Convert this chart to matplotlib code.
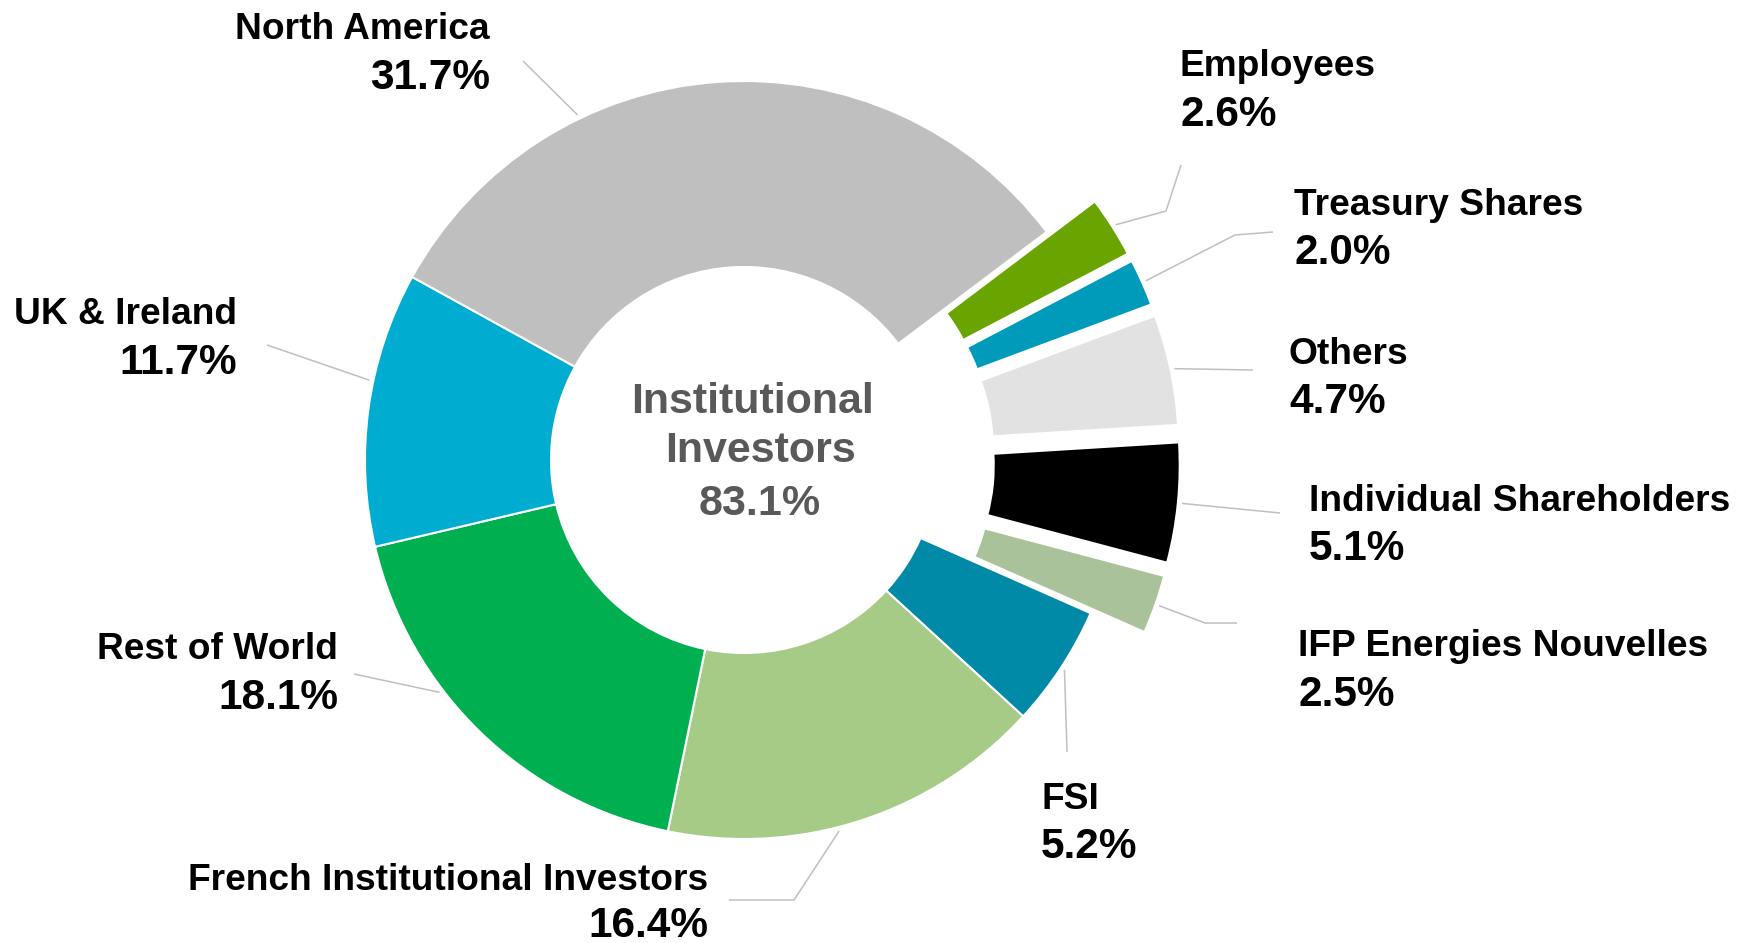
import numpy as np
import matplotlib.pyplot as plt

# Shareholding structure, clockwise from the top-right
labels = ["Employees", "Treasury Shares", "Others", "Individual Shareholders",
          "IFP Energies Nouvelles", "FSI", "French Institutional Investors",
          "Rest of World", "UK & Ireland", "North America"]
shares = [2.6, 2.0, 4.7, 5.1, 2.5, 5.2, 16.4, 18.1, 11.7, 31.7]
institutional = ["FSI", "French Institutional Investors", "Rest of World",
                 "UK & Ireland", "North America"]

colors = ["#6AA400", "#009BBB", "#E2E2E2", "#000000", "#A9C299",
          "#008AA8", "#A6CB86", "#00AF50", "#00ADD0", "#BFBFBF"]
pulled_out = [True, True, True, True, True, False, False, False, False, False]

# Canvas is laid out in pixels (y up)
W, H = 1746, 943
CX, CY = 744, 483
R_OUT, R_IN = 379, 193
PULL = 57

# per label: text x, alignment, name baseline, value baseline,
# where along the wedge the leader starts (0 = clockwise start), leader bends/end
layout = {
    "North America":   (490, "right", 904, 854, 0.31, [(523, 882)]),
    "UK & Ireland":    (237, "right", 619, 569, 0.60, [(267, 598)]),
    "Rest of World":   (338, "right", 284, 234, 0.63, [(354, 269)]),
    "French Institutional Investors":
                       (708, "right", 53, 6, 0.56, [(794, 43), (729, 43)]),
    "FSI":             (1041, "left", 134, 85, 0.5, [(1067, 191)]),
    "IFP Energies Nouvelles":
                       (1298, "left", 287, 237, 0.5, [(1205, 320), (1237, 320)]),
    "Individual Shareholders":
                       (1309, "left", 432, 383, 0.5, [(1280, 430)]),
    "Others":          (1289, "left", 579, 530, 0.5, [(1253, 573)]),
    "Treasury Shares": (1294, "left", 728, 679, 0.5, [(1235, 708), (1273, 711)]),
    "Employees":       (1180, "left", 867, 817, 0.5, [(1166, 732), (1181, 778)]),
}

FONT = ["Liberation Sans", "DejaVu Sans"]
LEADER = "#BFBFBF"
NAME_SIZE, VALUE_SIZE, CENTRE_SIZE = 26.7, 30.5, 31

fig = plt.figure(figsize=(W / 100, H / 100), dpi=100)
ax = fig.add_axes([0, 0, 1, 1])

wedges, _ = ax.pie(
    shares, colors=colors, startangle=37, counterclock=False,
    radius=R_OUT, center=(CX, CY),
    explode=[PULL if p else 0 for p in pulled_out],
    wedgeprops=dict(width=R_OUT - R_IN, edgecolor="white", linewidth=1.5),
)
ax.set_xlim(0, W)
ax.set_ylim(0, H)
ax.set_aspect("equal")
ax.axis("off")

for w, name, val in zip(wedges, labels, shares):
    tx, ha, y_name, y_val, frac, path = layout[name]
    ang = np.deg2rad(w.theta2 - frac * (w.theta2 - w.theta1))
    wx, wy = w.center
    r = w.r + 4
    xs = [wx + r * np.cos(ang)] + [p[0] for p in path]
    ys = [wy + r * np.sin(ang)] + [p[1] for p in path]
    ax.plot(xs, ys, color=LEADER, lw=1.1, solid_capstyle="butt")

    ax.text(tx, y_name, name, ha=ha, va="baseline", fontsize=NAME_SIZE,
            fontweight="bold", family=FONT, color="black")
    ax.text(tx, y_val, f"{val:.1f}%", ha=ha, va="baseline", fontsize=VALUE_SIZE,
            fontweight="bold", family=FONT, color="black")

# centre caption: total held by institutional investors
inst_total = sum(v for n, v in zip(labels, shares) if n in institutional)
for txt, x, yb in [("Institutional", 753, 530), ("Investors", 760, 481),
                   (f"{inst_total:.1f}%", 760, 428)]:
    ax.text(x, yb, txt, ha="center", va="baseline", fontsize=CENTRE_SIZE,
            fontweight="bold", family=FONT, color="#595959")

fig.savefig("out.png", dpi=100)
